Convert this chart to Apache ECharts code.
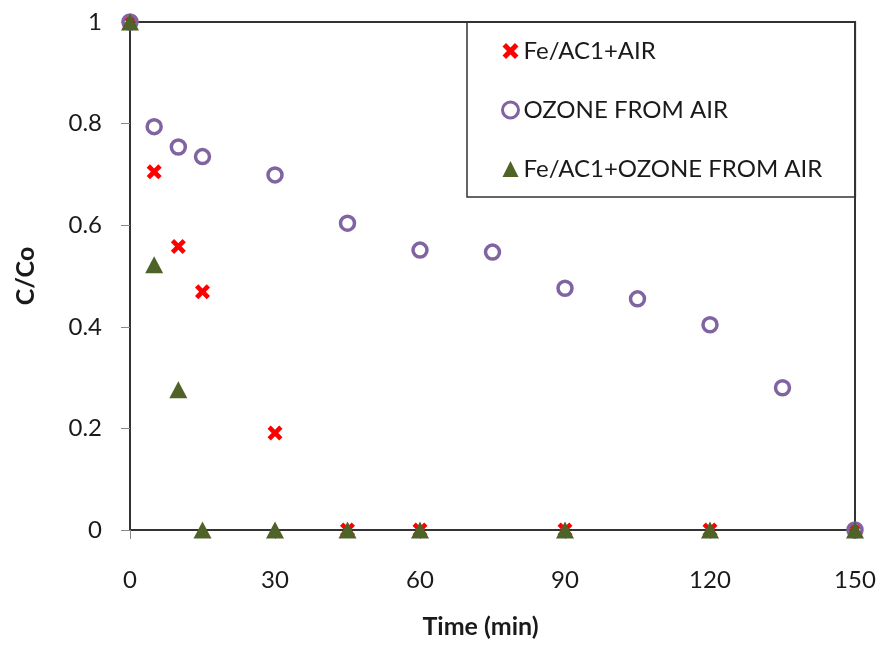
<!DOCTYPE html>
<html>
<head>
<meta charset="utf-8">
<script src="https://cdn.jsdelivr.net/npm/echarts@6/dist/echarts.min.js"></script>
<style>
  html, body { margin: 0; padding: 0; background: #fff; }
  #chart { width: 882px; height: 648px; }
</style>
</head>
<body>
<div id="chart"></div>
<script>
// time (min) for each series
const timeAir = [0, 5, 10, 15, 30, 45, 60, 90, 120, 150];
const feAir = [1, 0.705, 0.558, 0.469, 0.191, 0, 0, 0, 0, 0];

const timeOzone = [0, 5, 10, 15, 30, 45, 60, 75, 90, 105, 120, 135, 150];
const ozoneAir = [1, 0.794, 0.754, 0.735, 0.699, 0.604, 0.551, 0.547, 0.476, 0.455, 0.404, 0.280, 0];

const timeFeOzone = [0, 5, 10, 15, 30, 45, 60, 90, 120, 150];
const feOzoneAir = [1, 0.522, 0.276, 0, 0, 0, 0, 0, 0, 0];

const seriesNames = ["Fe/AC1+AIR", "OZONE FROM AIR", "Fe/AC1+OZONE FROM AIR"];

const font = "Lato";
const textCol = "#1a1a1a";

// 粗体X形标记
const crossPath = "path://M0,2.2 L2.2,0 L5,2.8 L7.8,0 L10,2.2 L7.2,5 L10,7.8 L7.8,10 L5,7.2 L2.2,10 L0,7.8 L2.8,5 Z";

const pairs = (xs, ys) => xs.map((x, i) => [x, ys[i]]);

const chart = echarts.init(document.getElementById("chart"));

const option = {
  animation: false,
  backgroundColor: "#fff",
  grid: {
    left: 130,
    right: 27,
    top: 22,
    bottom: 118,
    show: true,
    borderColor: "#333",
    borderWidth: 2,
  },
  legend: {
    orient: "vertical",
    left: 467,
    top: 22,
    data: [
      seriesNames[0],
      { name: seriesNames[1], itemStyle: { borderWidth: 3 } },
      seriesNames[2],
    ],
    borderColor: "#333",
    borderWidth: 1.5,
    padding: [17, 33, 16, 34],
    itemGap: 35,
    itemWidth: 16,
    itemHeight: 16,
    textStyle: {
      fontFamily: font,
      fontSize: 24,
      lineHeight: 24,
      color: textCol,
    },
  },
  xAxis: {
    type: "value",
    min: 0,
    max: 150,
    interval: 30,
    name: "Time (min)",
    nameLocation: "middle",
    nameGap: 84,
    nameTextStyle: {
      fontFamily: font,
      fontSize: 25,
      fontWeight: "bold",
      color: textCol,
      padding: [0, 24, 0, 0],
    },
    axisLine: { show: true, lineStyle: { color: "#333", width: 2 } },
    axisTick: { show: true, length: 9, lineStyle: { color: "#888", width: 1 } },
    axisLabel: {
      margin: 38,
      fontFamily: font,
      fontSize: 24,
      color: textCol,
    },
    splitLine: { show: false },
  },
  yAxis: {
    type: "value",
    min: 0,
    max: 1,
    interval: 0.2,
    name: "C/Co",
    nameLocation: "middle",
    nameGap: 92,
    nameTextStyle: {
      fontFamily: font,
      fontSize: 25,
      fontWeight: "bold",
      color: textCol,
    },
    axisLine: { show: true, lineStyle: { color: "#333", width: 2 } },
    axisTick: { show: true, length: 9, lineStyle: { color: "#888", width: 1 } },
    axisLabel: {
      margin: 28,
      fontFamily: font,
      fontSize: 24,
      color: textCol,
      formatter: (v) => (v === 0 || v === 1 ? String(v) : v.toFixed(1)),
    },
    splitLine: { show: false },
  },
  series: [
    {
      name: seriesNames[0],
      type: "scatter",
      data: pairs(timeAir, feAir),
      symbol: crossPath,
      symbolSize: 15,
      itemStyle: { color: "#ff0000", opacity: 1 },
    },
    {
      name: seriesNames[1],
      type: "scatter",
      data: pairs(timeOzone, ozoneAir),
      symbol: "circle",
      symbolSize: 14,
      itemStyle: {
        color: "rgba(255,255,255,0)",
        borderColor: "#8064a2",
        borderWidth: 3.5,
        opacity: 1,
      },
    },
    {
      name: seriesNames[2],
      type: "scatter",
      data: pairs(timeFeOzone, feOzoneAir),
      symbol: "triangle",
      symbolSize: [18, 17],
      itemStyle: { color: "#4f6228", opacity: 1 },
    },
  ],
};

chart.setOption(option);
</script>
</body>
</html>
